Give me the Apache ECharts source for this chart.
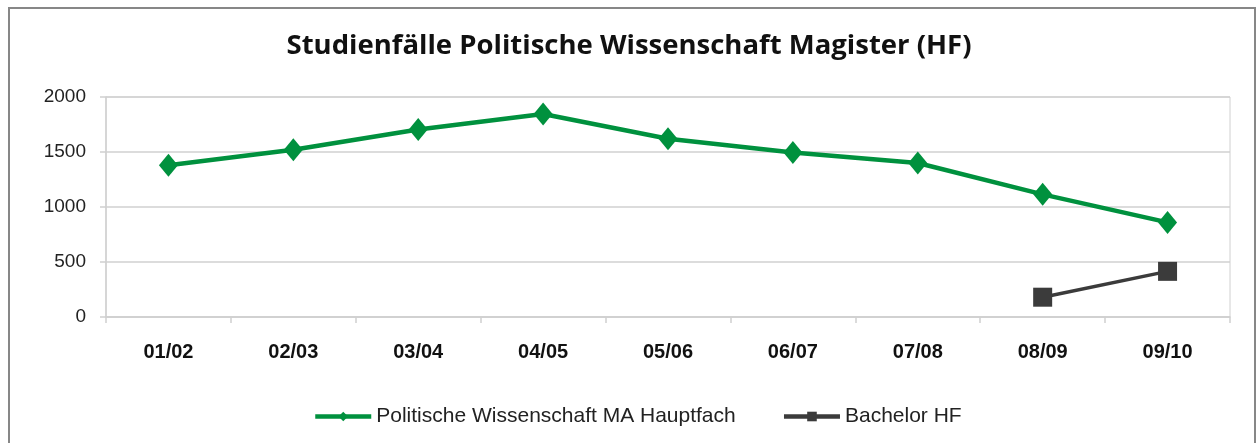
<!DOCTYPE html>
<html>
<head>
<meta charset="utf-8">
<script src="https://cdn.jsdelivr.net/npm/echarts@6/dist/echarts.min.js"></script>
<style>
  html, body { margin: 0; padding: 0; background: #fff; }
  #chart { width: 1258px; height: 443px; }
</style>
</head>
<body>
<div id="chart"></div>
<script>
// Daten
var semesters = ['01/02', '02/03', '03/04', '04/05', '05/06', '06/07', '07/08', '08/09', '09/10'];
var magisterHF = [1380, 1520, 1705, 1845, 1620, 1495, 1400, 1115, 860];
var bachelorHF = [null, null, null, null, null, null, null, 180, 415];
var yTicks = { min: 0, max: 2000, step: 500 };

var myChart = echarts.init(document.getElementById('chart'));
var gridColor = '#d0d0d0';
var green = '#00913e';
var dark = '#3b3b3b';

var option = {
    animation: false,
    backgroundColor: '#fff',
    graphic: [{
        type: 'rect',
        shape: { x: 9, y: 8, width: 1246, height: 460 },
        style: { fill: 'none', stroke: '#878787', lineWidth: 2 },
        silent: true
    }],
    title: {
        text: 'Studienfälle Politische Wissenschaft Magister (HF)',
        left: 'center',
        top: 27,
        textStyle: {
            fontFamily: 'Open Sans',
            fontWeight: 'bold',
            fontSize: 27.5,
            color: '#111'
        }
    },
    legend: {
        left: 308,
        top: 401,
        itemWidth: 56,
        itemHeight: 12,
        itemGap: 46,
        textStyle: {
            fontFamily: 'Liberation Sans',
            fontSize: 21,
            color: '#222'
        },
        data: [
            { name: 'Politische Wissenschaft MA Hauptfach', lineStyle: { width: 4.5, color: green } },
            { name: 'Bachelor HF', lineStyle: { width: 4.5, color: dark } }
        ]
    },
    grid: {
        left: 106,
        right: 28,
        top: 97,
        bottom: 126,
        show: true,
        borderColor: gridColor,
        borderWidth: 1
    },
    xAxis: {
        type: 'category',
        data: semesters,
        boundaryGap: true,
        axisLine: { lineStyle: { color: gridColor, width: 1.5 } },
        axisTick: { show: true, length: 6, lineStyle: { color: gridColor, width: 1.5 } },
        axisLabel: {
            margin: 25,
            fontFamily: 'Liberation Sans',
            fontWeight: 'bold',
            fontSize: 20,
            color: '#111'
        }
    },
    yAxis: {
        type: 'value',
        min: yTicks.min,
        max: yTicks.max,
        interval: yTicks.step,
        axisLine: { show: true, lineStyle: { color: gridColor, width: 1.5 } },
        axisTick: { show: true, length: 6, lineStyle: { color: gridColor, width: 1.5 } },
        splitLine: { lineStyle: { color: gridColor, width: 1.5 } },
        axisLabel: {
            margin: 20,
            fontFamily: 'Liberation Sans',
            fontSize: 19,
            color: '#222',
            formatter: function (v) { return String(v); }
        }
    },
    series: [{
        name: 'Politische Wissenschaft MA Hauptfach',
        type: 'line',
        data: magisterHF,
        symbol: 'diamond',
        symbolSize: [19, 23],
        itemStyle: { color: green },
        lineStyle: { color: green, width: 4.5 }
    }, {
        name: 'Bachelor HF',
        type: 'line',
        data: bachelorHF,
        symbol: 'rect',
        symbolSize: 19,
        itemStyle: { color: dark },
        lineStyle: { color: dark, width: 3.5 }
    }]
};

myChart.setOption(option);
</script>
</body>
</html>
